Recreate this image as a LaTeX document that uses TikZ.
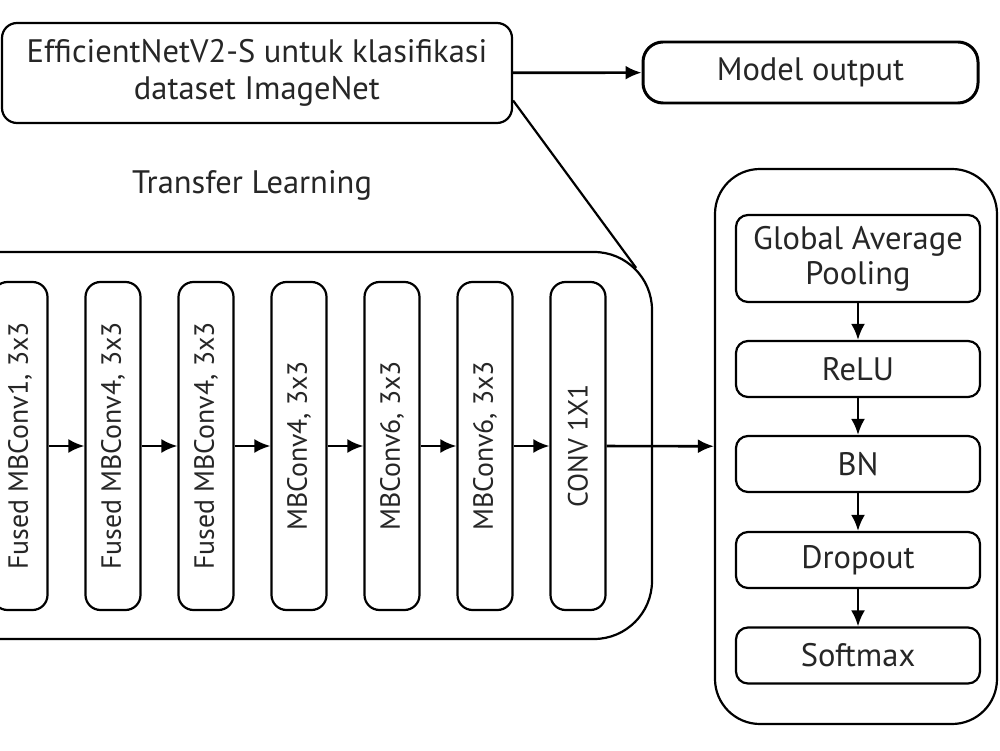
\documentclass[tikz,border=0pt]{standalone}
\usepackage{fontspec}
\setmainfont{PT Sans}
\usetikzlibrary{arrows.meta}
\tikzstyle{rbox}=[rectangle,rounded corners=3mm,draw=black,line width=1.25pt,align=center,text=black!85,font=\fontsize{18.5}{21}\selectfont]
\tikzstyle{vbox}=[rbox,rotate=90,minimum width=6.56cm,minimum height=1.1cm,inner sep=0pt,font=\fontsize{15.8}{20}\selectfont]
\tikzstyle{hbox}=[rbox,rounded corners=2.4mm,minimum width=4.88cm,inner sep=0pt,font=\fontsize{18.5}{20}\selectfont]
\tikzstyle{frame}=[rectangle,draw=black,line width=1.25pt]
\tikzstyle{dflow}=[-{Latex[length=3.2mm,width=2.8mm]}, line width=1.5pt]

\begin{document}
\begin{tikzpicture}[dflow]
\clip (0,0) rectangle (20,15);
\node[rbox,minimum width=10.2cm,minimum height=2cm] (T) at (5.14,13.54) {EfficientNetV2-S untuk klasifikasi\\dataset ImageNet};
\node[rbox,line width=1.7pt,rounded corners=4mm,minimum width=6.7cm,minimum height=1.22cm] (O) at (16.21,13.55) {Model output};
\node[text=black!85,font=\fontsize{18.5}{20}\selectfont] (L) at (5.04,11.3) {Transfer Learning};
% backbone
\node[frame,rounded corners=11.6mm,minimum width=14.24cm,minimum height=7.74cm] (F) at (5.92,6.09) {};
\node[vbox] (B1) at (0.40,6.08) {Fused MBConv1, 3x3};
\node[vbox] (B2) at (2.26,6.08) {Fused MBConv4, 3x3};
\node[vbox] (B3) at (4.12,6.08) {Fused MBConv4, 3x3};
\node[vbox] (B4) at (5.98,6.08) {MBConv4, 3x3};
\node[vbox] (B5) at (7.84,6.08) {MBConv6, 3x3};
\node[vbox] (B6) at (9.70,6.08) {MBConv6, 3x3};
\node[vbox] (B7) at (11.56,6.08) {CONV 1X1};
% head
\node[frame,rounded corners=9mm,minimum width=5.64cm,minimum height=11.1cm] (H) at (17.12,6.07) {};
\node[hbox,minimum height=1.74cm] (G) at (17.16,9.83) {Global Average\\Pooling};
\node[hbox,minimum height=1.12cm] (R) at (17.16,7.62) {ReLU};
\node[hbox,minimum height=1.12cm] (N) at (17.16,5.72) {BN};
\node[hbox,minimum height=1.12cm] (D) at (17.16,3.80) {Dropout};
\node[hbox,minimum height=1.12cm] (S) at (17.16,1.89) {Softmax};
\draw(T)--(O);
\draw[-,line width=1.25pt]([yshift=-0.55cm]T.east)--([xshift=-0.34cm,yshift=-0.34cm]F.north east);
\draw(B1)--(B2);\draw(B2)--(B3);\draw(B3)--(B4);\draw(B4)--(B5);\draw(B5)--(B6);\draw(B6)--(B7);
\draw(B7)--(H);
\draw(G)--(R);\draw(R)--(N);\draw(N)--(D);\draw(D)--(S);
\end{tikzpicture}
\end{document}
